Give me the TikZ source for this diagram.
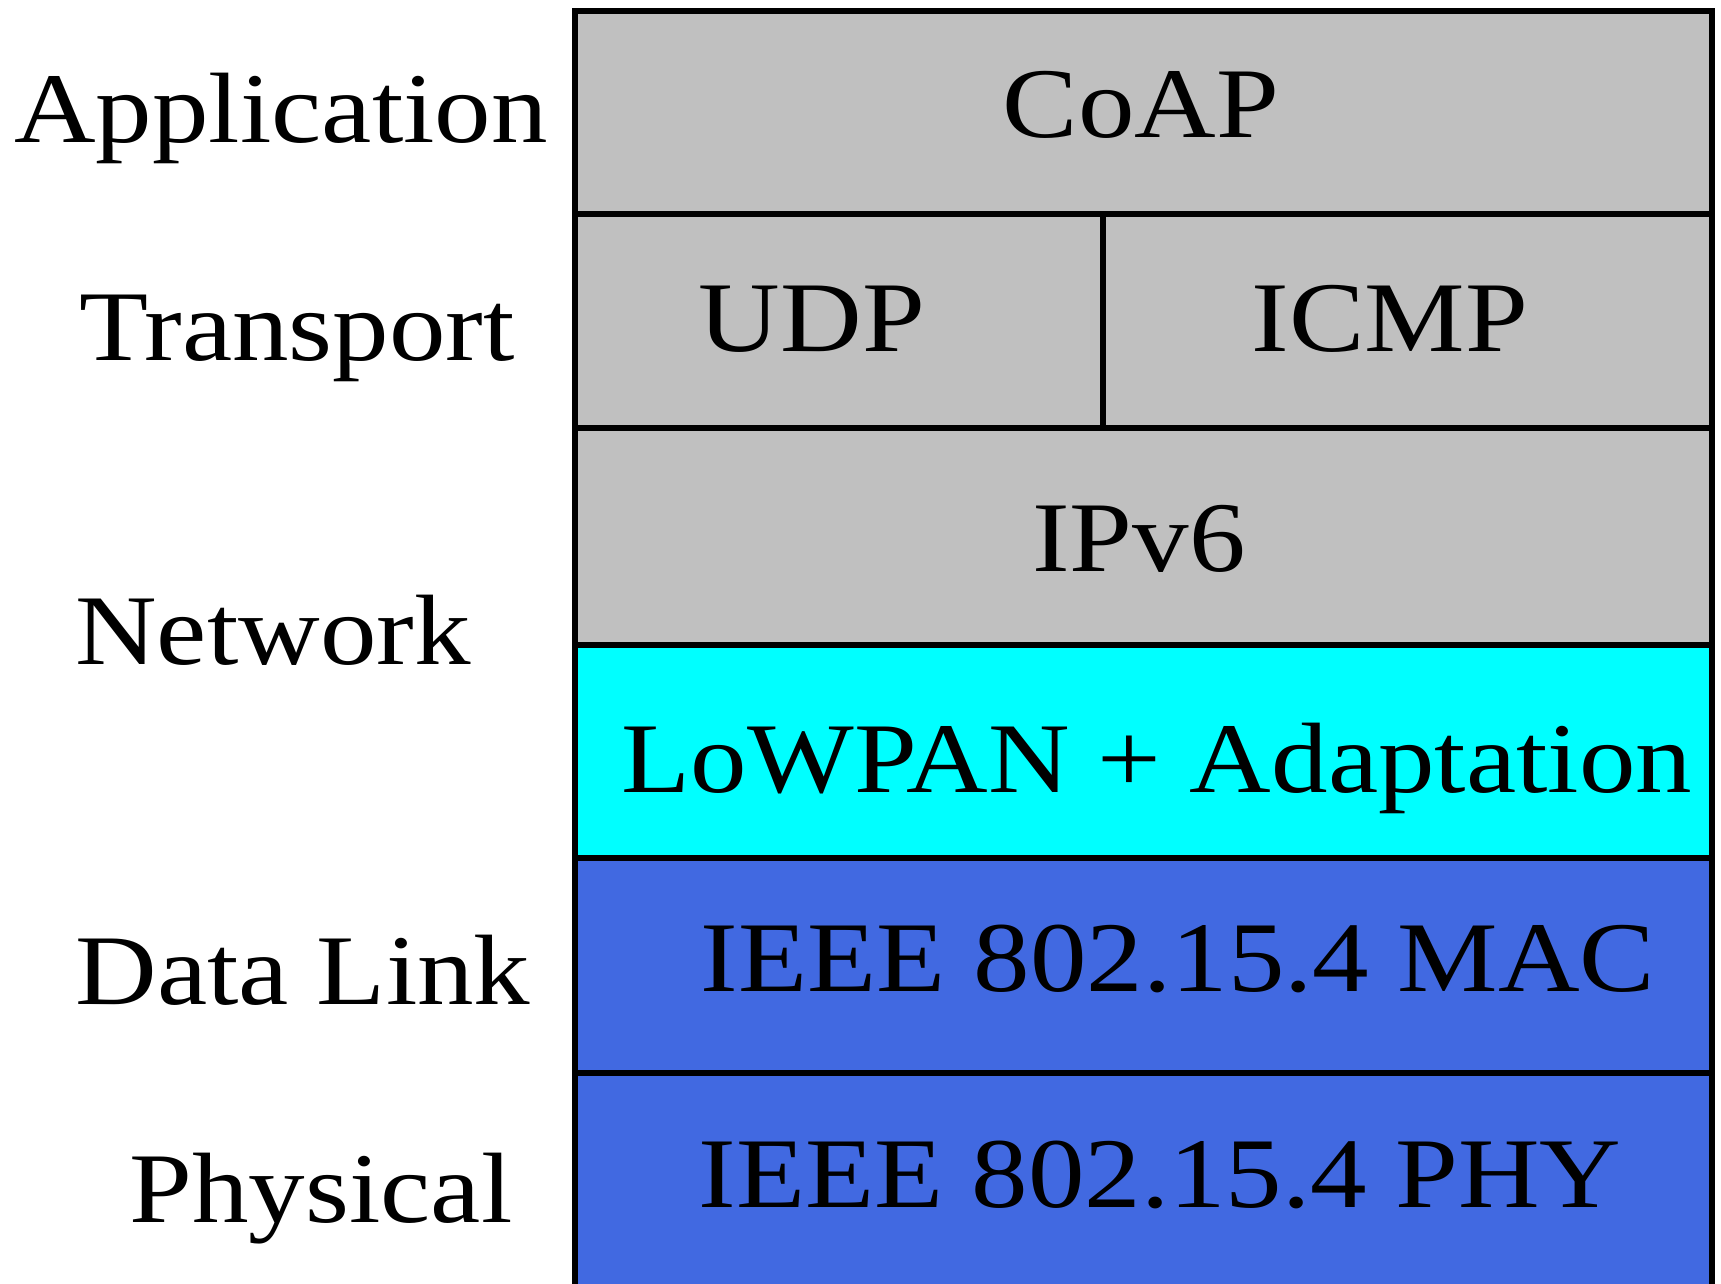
\documentclass[tikz,border=0pt]{standalone}
\usepackage{fontspec}
\setmainfont{Liberation Serif}[FakeStretch=1.13]
\definecolor{layergray}{HTML}{C0C0C0}
\definecolor{layercyan}{HTML}{00FFFF}
\definecolor{layerblue}{HTML}{4169E1}
\tikzset{
  layer/.style={draw=black, line width=6pt},
  txt/.style={anchor=base, inner sep=0pt, font=\fontsize{100}{110}\selectfont}
}
\begin{document}
\begin{tikzpicture}[x=1pt, y=-1pt]
\useasboundingbox (0,0) rectangle (1721,1284);
\clip (0,0) rectangle (1721,1284);
\fill[white] (0,0) rectangle (1721,1284);

% protocol stack
\draw[layer, fill=layergray] (575,11) rectangle (1712,214);
\draw[layer, fill=layergray] (575,214) rectangle (1103,428);
\draw[layer, fill=layergray] (1103,214) rectangle (1712,428);
\draw[layer, fill=layergray] (575,428) rectangle (1712,645);
\draw[layer, fill=layercyan] (575,645) rectangle (1712,858);
\draw[layer, fill=layerblue] (575,858) rectangle (1712,1073);
\draw[layer, fill=layerblue] (575,1073) rectangle (1712,1310);

% protocol names
\node[txt] (coap) at (1141,138) {CoAP};
\node[txt] (udp)  at (812,351)  {UDP};
\node[txt] (icmp) at (1390,351) {ICMP};
\node[txt] (ipv6) at (1139,571) {IPv6};
\node[txt] (lowpan) at (1157,792) {LoWPAN + Adaptation};
\node[txt] (mac) at (1178,991) {IEEE 802.15.4 MAC};
\node[txt] (phy) at (1160,1207) {IEEE 802.15.4 PHY};

% layer names
\node[txt] (app)  at (281,143)  {Application};
\node[txt] (trn)  at (297,360)  {Transport};
\node[txt] (net)  at (273,664)  {Network};
\node[txt] (dl)   at (303,1004) {Data Link};
\node[txt] (phys) at (321,1222) {Physical};
\end{tikzpicture}
\end{document}
